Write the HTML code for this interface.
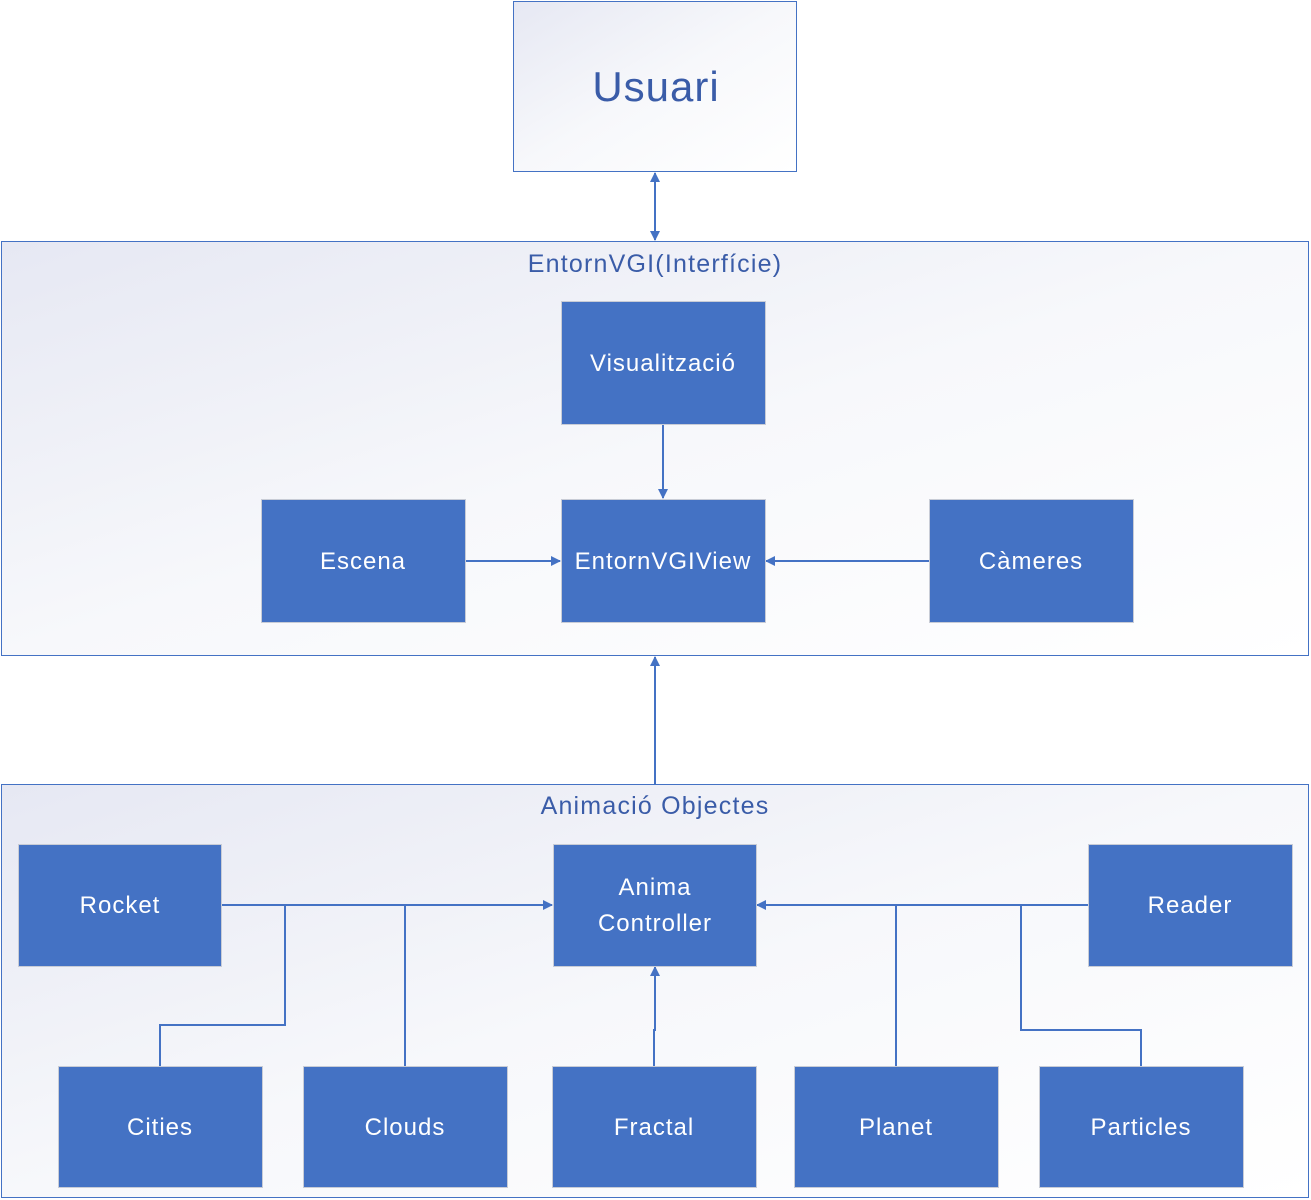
<!DOCTYPE html>
<html><head><meta charset="utf-8"><style>
html,body{margin:0;padding:0;background:#fff;}
svg{display:block;font-family:"Liberation Sans",sans-serif;}
</style></head><body>
<svg width="1311" height="1200" viewBox="0 0 1311 1200" xmlns="http://www.w3.org/2000/svg">
<defs>
<linearGradient id="g" x1="0" y1="0" x2="1" y2="1">
<stop offset="0" stop-color="#e6e8f3"/><stop offset="0.5" stop-color="#f7f8fb"/><stop offset="1" stop-color="#ffffff"/>
</linearGradient>
<marker id="a" markerWidth="10" markerHeight="10" refX="9" refY="5" orient="auto-start-reverse" markerUnits="userSpaceOnUse">
<path d="M0,0 L10,5 L0,10 z" fill="#4472c4"/></marker>
</defs>
<rect x="513.5" y="1.5" width="283" height="170" fill="url(#g)" stroke="#4472c4"/>
<text x="656" y="101" font-size="42" fill="#3a5ca8" text-anchor="middle" letter-spacing="1">Usuari</text>
<line x1="655" y1="173" x2="655" y2="240" stroke="#4472c4" stroke-width="2" marker-start="url(#a)" marker-end="url(#a)"/>
<rect x="1.5" y="241.5" width="1307" height="414" fill="url(#g)" stroke="#4472c4"/>
<text x="655" y="272" font-size="25" fill="#3a5ca8" text-anchor="middle" letter-spacing="1.2">EntornVGI(Interfície)</text>
<rect x="1.5" y="784.5" width="1307" height="413" fill="url(#g)" stroke="#4472c4"/>
<text x="655" y="814" font-size="25" fill="#3a5ca8" text-anchor="middle" letter-spacing="1.2">Animació Objectes</text>
<line x1="655" y1="784" x2="655" y2="657" stroke="#4472c4" stroke-width="2" marker-end="url(#a)"/>
<g stroke="#4472c4" stroke-width="2" fill="none">
<line x1="663" y1="424" x2="663" y2="498" marker-end="url(#a)"/>
<line x1="465" y1="561" x2="560" y2="561" marker-end="url(#a)"/>
<line x1="929" y1="561" x2="766" y2="561" marker-end="url(#a)"/>
<line x1="221" y1="905" x2="552" y2="905" marker-end="url(#a)"/>
<polyline points="160,1066 160,1025 285,1025 285,905"/>
<line x1="405" y1="1066" x2="405" y2="905"/>
<polyline points="654,1066 654,1030 655,1030 655,967" marker-end="url(#a)"/>
<line x1="1088" y1="905" x2="757" y2="905" marker-end="url(#a)"/>
<line x1="896" y1="1066" x2="896" y2="905"/>
<polyline points="1141,1066 1141,1030 1021,1030 1021,905"/>
</g>
<g fill="#4472c4" stroke="#c8ccd6" stroke-width="1">
<rect x="561.5" y="301.5" width="204" height="123"/>
<rect x="561.5" y="499.5" width="204" height="123"/>
<rect x="261.5" y="499.5" width="204" height="123"/>
<rect x="929.5" y="499.5" width="204" height="123"/>
<rect x="18.5" y="844.5" width="203" height="122"/>
<rect x="553.5" y="844.5" width="203" height="122"/>
<rect x="1088.5" y="844.5" width="204" height="122"/>
<rect x="58.5" y="1066.5" width="204" height="121"/>
<rect x="303.5" y="1066.5" width="204" height="121"/>
<rect x="552.5" y="1066.5" width="204" height="121"/>
<rect x="794.5" y="1066.5" width="204" height="121"/>
<rect x="1039.5" y="1066.5" width="204" height="121"/>
</g>
<g fill="#fff" font-size="24" text-anchor="middle" letter-spacing="1">
<text x="663" y="371">Visualització</text>
<text x="663" y="569">EntornVGIView</text>
<text x="363" y="569">Escena</text>
<text x="1031" y="569">Càmeres</text>
<text x="120" y="913">Rocket</text>
<text x="655" y="895">Anima</text>
<text x="655" y="931">Controller</text>
<text x="1190" y="913">Reader</text>
<text x="160" y="1135">Cities</text>
<text x="405" y="1135">Clouds</text>
<text x="654" y="1135">Fractal</text>
<text x="896" y="1135">Planet</text>
<text x="1141" y="1135">Particles</text>
</g>
</svg>
</body></html>
